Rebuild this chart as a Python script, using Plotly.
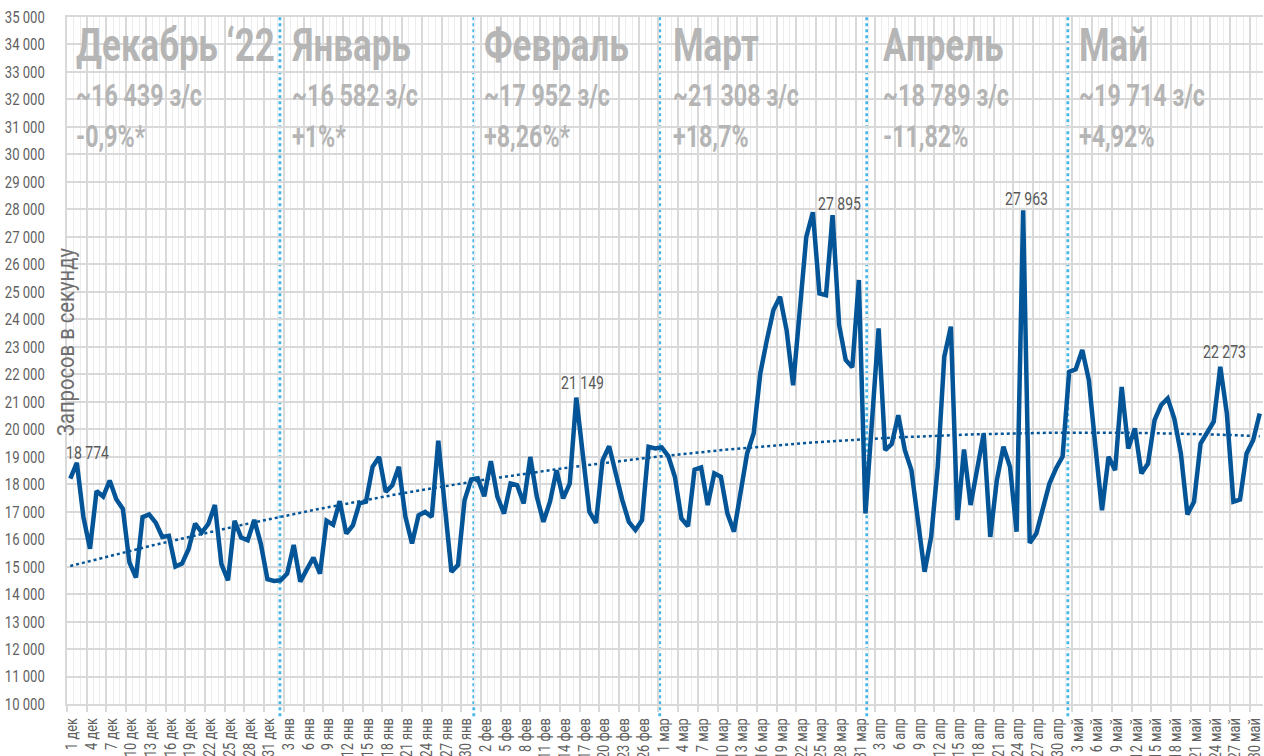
import datetime as dt
import numpy as np
import plotly.graph_objects as go

# ---------------- data ----------------
start_date = dt.date(2022, 12, 1)
month_abbr = {12: "дек", 1: "янв", 2: "фев", 3: "мар", 4: "апр", 5: "май"}

dec_vals = [18200, 18774, 16800, 15650, 17750, 17550, 18130, 17450, 17100, 15150,
            14600, 16800, 16900, 16600, 16080, 16120, 15000, 15110, 15630, 16570,
            16240, 16550, 17240, 15090, 14500, 16670, 16060, 15960, 16700, 15820, 14540]
jan_vals = [14480, 14500, 14740, 15790, 14450, 14900, 15330, 14740, 16670, 16520,
            17380, 16200, 16500, 17300, 17360, 18630, 18990, 17720, 17960, 18630,
            16810, 15840, 16870, 16990, 16810, 19580, 17300, 14810, 15060, 17420, 18170]
feb_vals = [18210, 17560, 18840, 17540, 16930, 18020, 17960, 17300, 18990, 17540,
            16630, 17360, 18510, 17480, 18020, 21149, 18990, 16990, 16590, 18870,
            19380, 18410, 17420, 16630, 16330, 16690, 19360, 19300]
mar_vals = [19340, 19020, 18270, 16750, 16470, 18530, 18610, 17240, 18390, 18270,
            16930, 16270, 17780, 19120, 19850, 22030, 23240, 24340, 24820, 23610,
            21600, 24090, 27000, 27895, 24940, 24880, 27790, 23790, 22520, 22250, 25430]
apr_vals = [16930, 20300, 23670, 19240, 19460, 20510, 19240, 18510, 16690, 14810,
            16080, 18630, 22640, 23730, 16690, 19260, 17240, 18510, 19850, 16080,
            18150, 19360, 18630, 16270, 27963, 15860, 16200, 17110, 18020, 18570]
may_vals = [19000, 22090, 22180, 22880, 21790, 19360, 17050, 19000, 18510, 21540,
            19300, 20030, 18390, 18750, 20330, 20880, 21120, 20390, 19120, 16900,
            17360, 19480, 19850, 20270, 22273, 20570, 17360, 17440, 19120, 19600, 20570]

values = dec_vals + jan_vals + feb_vals + mar_vals + apr_vals + may_vals
n_days = len(values)
dates = [start_date + dt.timedelta(days=k) for k in range(n_days)]
day_labels = [f"{d.day} {month_abbr[d.month]}" for d in dates]

# labelled points: (day index, text)
point_labels = [(1, "18 774"), (77, "21 149"), (113, "27 895"), (145, "27 963"), (175, "22 273")]
label_shift = {1: (11, 10), 77: (6, 15), 113: (27, 9), 145: (3, 12), 175: (4, 15)}

month_names = ["Декабрь ‘22", "Январь", "Февраль", "Март", "Апрель", "Май"]
month_avgs = ["~16 439 з/с", "~16 582 з/с", "~17 952 з/с", "~21 308 з/с", "~18 789 з/с", "~19 714 з/с"]
month_changes = ["-0,9%*", "+1%*", "+8,26%*", "+18,7%", "-11,82%", "+4,92%"]

# ---------------- layout constants ----------------
W, H = 1264, 756
ML, MR, MT, MB = 67, 1, 17, 52
plot_w = W - ML - MR
plot_h = H - MT - MB


def px_to_paper_x(px):
    return (px - ML) / plot_w


def py_to_paper_y(py):
    return (H - MB - py) / plot_h


def cond(k):
    # Roboto, horizontally condensed by factor k (applied in post script)
    return f"Roboto, zc{k}"


idx = np.arange(n_days)
coef = np.polyfit(idx, values, 2)
trend = np.polyval(coef, idx)

BLUE = "#035597"
MONTH_GREY = "#b5b5b5"

fig = go.Figure()
fig.add_trace(go.Scatter(x=idx, y=trend, mode="lines",
                         line=dict(color=BLUE, width=2.5, dash="dot"),
                         hoverinfo="skip", showlegend=False))
fig.add_trace(go.Scatter(x=idx, y=values, mode="lines",
                         line=dict(color=BLUE, width=4.5),
                         text=day_labels, showlegend=False))

# month separators (dotted light blue)
month_lines = [31.9, 61.4, 89.7, 121.2, 151.8]
for xm in month_lines:
    fig.add_shape(type="line", xref="x", yref="paper", x0=xm, x1=xm, y0=-0.018, y1=1,
                  line=dict(color="#45b6e6", width=2.8, dash="dot"), layer="between")

annotations = []
month_text_px = [75, 291, 483, 672, 882, 1078]
for k in range(6):
    xp = px_to_paper_x(month_text_px[k])
    annotations.append(dict(x=xp, y=py_to_paper_y(45), xref="paper", yref="paper",
                            text=f"<b>{month_names[k]}</b>", showarrow=False,
                            xanchor="left", yanchor="middle", align="left", borderpad=0,
                            font=dict(family=cond(76), size=46, color=MONTH_GREY)))
    annotations.append(dict(x=xp, y=py_to_paper_y(96), xref="paper", yref="paper",
                            text=f"<b>{month_avgs[k]}</b>", showarrow=False,
                            xanchor="left", yanchor="middle", align="left", borderpad=0,
                            font=dict(family=cond(75), size=31, color=MONTH_GREY)))
    annotations.append(dict(x=xp, y=py_to_paper_y(136), xref="paper", yref="paper",
                            text=f"<b>{month_changes[k]}</b>", showarrow=False,
                            xanchor="left", yanchor="middle", align="left", borderpad=0,
                            font=dict(family=cond(75), size=31, color=MONTH_GREY)))

for i, txt in point_labels:
    xs, ys = label_shift[i]
    annotations.append(dict(x=i, y=values[i], xref="x", yref="y", text=txt,
                            showarrow=False, xanchor="center", yanchor="middle",
                            xshift=xs, yshift=ys,
                            font=dict(family=cond(78), size=18, color="#595959")))

annotations.append(dict(x=px_to_paper_x(66), y=py_to_paper_y(342), xref="paper", yref="paper",
                        text="Запросов в секунду", textangle=-90, showarrow=False,
                        xanchor="center", yanchor="middle",
                        font=dict(family=cond(88), size=23, color="#6e6e6e")))

fig.update_layout(
    width=W, height=H,
    margin=dict(l=ML, r=MR, t=MT, b=MB, pad=0, autoexpand=False),
    paper_bgcolor="white", plot_bgcolor="white",
    separators=", ",
    annotations=annotations,
    showlegend=False,
)

fig.update_xaxes(
    automargin=False,
    range=[-0.5, n_days - 0.5],
    tickmode="array",
    tickvals=[i - 0.5 for i in range(0, n_days, 3)],
    ticktext=[day_labels[i] for i in range(0, n_days, 3)],
    ticklabelshift=5,
    ticklabeloverflow="allow",
    tickangle=-90,
    tickfont=dict(family=cond(80), size=16, color="#5f5f5f"),
    showgrid=True, gridcolor="#d9d9d9", gridwidth=1.6,
    ticks="outside", ticklen=6, tickwidth=1.6, tickcolor="#d9d9d9",
    minor=dict(tick0=-0.5, dtick=1, showgrid=True, gridcolor="#ececec", gridwidth=1, ticks=""),
    showline=True, linecolor="#d9d9d9", linewidth=1.6, mirror=True,
    zeroline=False,
)
fig.update_yaxes(
    automargin=False,
    range=[10000, 35000],
    tick0=10000, dtick=1000,
    tickformat=",d",
    tickfont=dict(family=cond(77), size=17, color="#5f5f5f"),
    showgrid=True, gridcolor="#d9d9d9", gridwidth=1.6,
    showline=True, linecolor="#d9d9d9", linewidth=1.6,
    ticks="", ticklabelstandoff=17,
    zeroline=False,
)

post_js = """
(function(){
  document.documentElement.style.margin = '0';
  document.documentElement.style.padding = '0';
  document.body.style.margin = '0';
  document.body.style.padding = '0';
  document.body.style.overflow = 'hidden';
  function condense(){
    var root = document.getElementById('{plot_id}');
    if(!root) return;
    var texts = root.querySelectorAll('text');
    texts.forEach(function(t){
      var ff = t.style.fontFamily || t.getAttribute('font-family') || '';
      var m = ff.match(/zc(\\d+)/);
      if(!m) return;
      var k = parseInt(m[1], 10) / 100;
      var cur = t.getAttribute('transform') || '';
      if (t.getAttribute('data-zc-done') === cur) return;
      var base = cur;
      var bb;
      try { bb = t.getBBox(); } catch(e) { return; }
      var anc = t.getAttribute('text-anchor') || 'start';
      var ax = anc === 'middle' ? bb.x + bb.width / 2 : (anc === 'end' ? bb.x + bb.width : bb.x);
      var nt = (base ? base + ' ' : '') + 'translate(' + ax + ',0) scale(' + k + ',1) translate(' + (-ax) + ',0)';
      t.setAttribute('transform', nt);
      t.setAttribute('data-zc-done', nt);
    });
  }
  condense();
  setTimeout(condense, 50);
  setTimeout(condense, 300);
  setTimeout(condense, 1000);
  var gd = document.getElementById('{plot_id}');
  if (gd && gd.on) { gd.on('plotly_afterplot', function(){ setTimeout(condense, 0); }); }
})();
"""

fig.write_html("out.html", post_script=post_js, config={"displayModeBar": False})
